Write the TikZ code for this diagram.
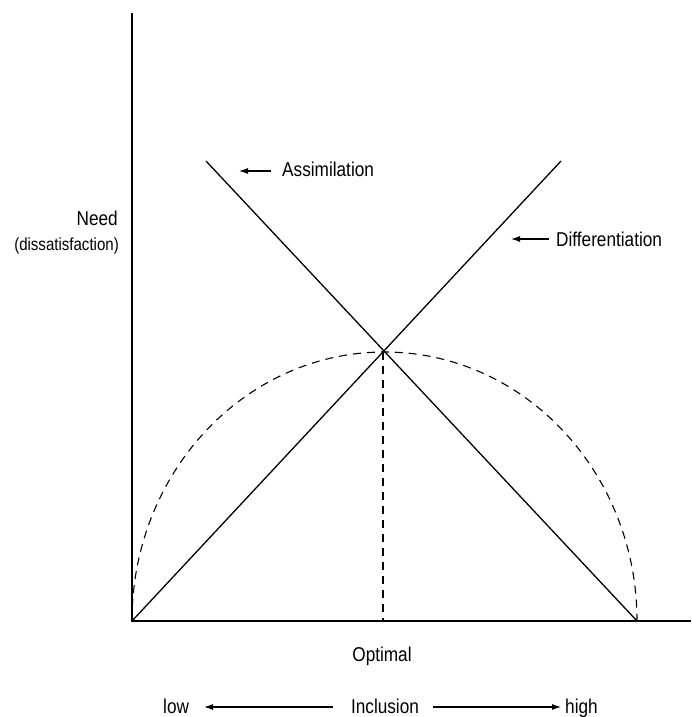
\documentclass[tikz,border=0pt]{standalone}
\usepackage{fontspec}
\usetikzlibrary{arrows.meta}
\setmainfont{Liberation Sans}
\newfontfamily\narrowf[FakeStretch=0.86]{Liberation Sans}
\begin{document}
\begin{tikzpicture}[x=1pt,y=-1pt,
  lab/.style={font=\narrowf\fontsize{20}{23}\selectfont, inner sep=0pt},
  smalllab/.style={font=\narrowf\fontsize{17.5}{20}\selectfont, inner sep=0pt},
  axisline/.style={line width=1.6pt},
  curve/.style={line width=1.3pt},
  dashline/.style={line width=1.1pt, dash pattern=on 8pt off 6pt},
  ptr/.style={line width=1.1pt, -{Latex[length=9pt,width=6pt]}}]
\useasboundingbox[fill=white] (0,0) rectangle (691,717);
% axes
\coordinate (O) at (132,621);
\coordinate (Ytop) at (132,13);
\coordinate (Xend) at (691,621);
\coordinate (X) at (383,352);
\coordinate (Abeg) at (206,161);
\coordinate (Aend) at (637,621);
\coordinate (Dend) at (561,161);
\coordinate (Xfoot) at (383,621);
% dashed half ellipse
\draw[dashline] (O) arc[start angle=180, end angle=0, x radius=252.5, y radius=-269];
\draw[dashline] (X) -- (Xfoot);
\draw[axisline] (Ytop) -- (O) -- (Xend);
\draw[curve] (O) -- (Dend);
\draw[curve] (Abeg) -- (Aend);
% labels
\node[lab, anchor=base west] (assim) at (282,176) {Assimilation};
\coordinate (assimtail) at (271,171);
\coordinate (assimtip) at (239,171);
\draw[ptr] (assimtail) -- (assimtip);
\node[lab, anchor=base west] (diff) at (556,246) {Differentiation};
\coordinate (difftail) at (549,239);
\coordinate (difftip) at (511,239);
\draw[ptr] (difftail) -- (difftip);
\node[lab, anchor=base east] (need) at (118,225) {Need};
\node[smalllab, anchor=base east] (dis) at (119,250) {(dissatisfaction)};
\node[lab, anchor=base] (opt) at (382,661) {Optimal};
\node[lab, anchor=base west] (low) at (163,713) {low};
\node[lab, anchor=base] (incl) at (385,713) {Inclusion};
\node[lab, anchor=base west] (high) at (565,713) {high};
\coordinate (lt) at (333,707);
\coordinate (ltip) at (204,707);
\coordinate (rt) at (433,707);
\coordinate (rtip) at (561,707);
\draw[ptr] (lt) -- (ltip);
\draw[ptr] (rt) -- (rtip);
\end{tikzpicture}
\end{document}
